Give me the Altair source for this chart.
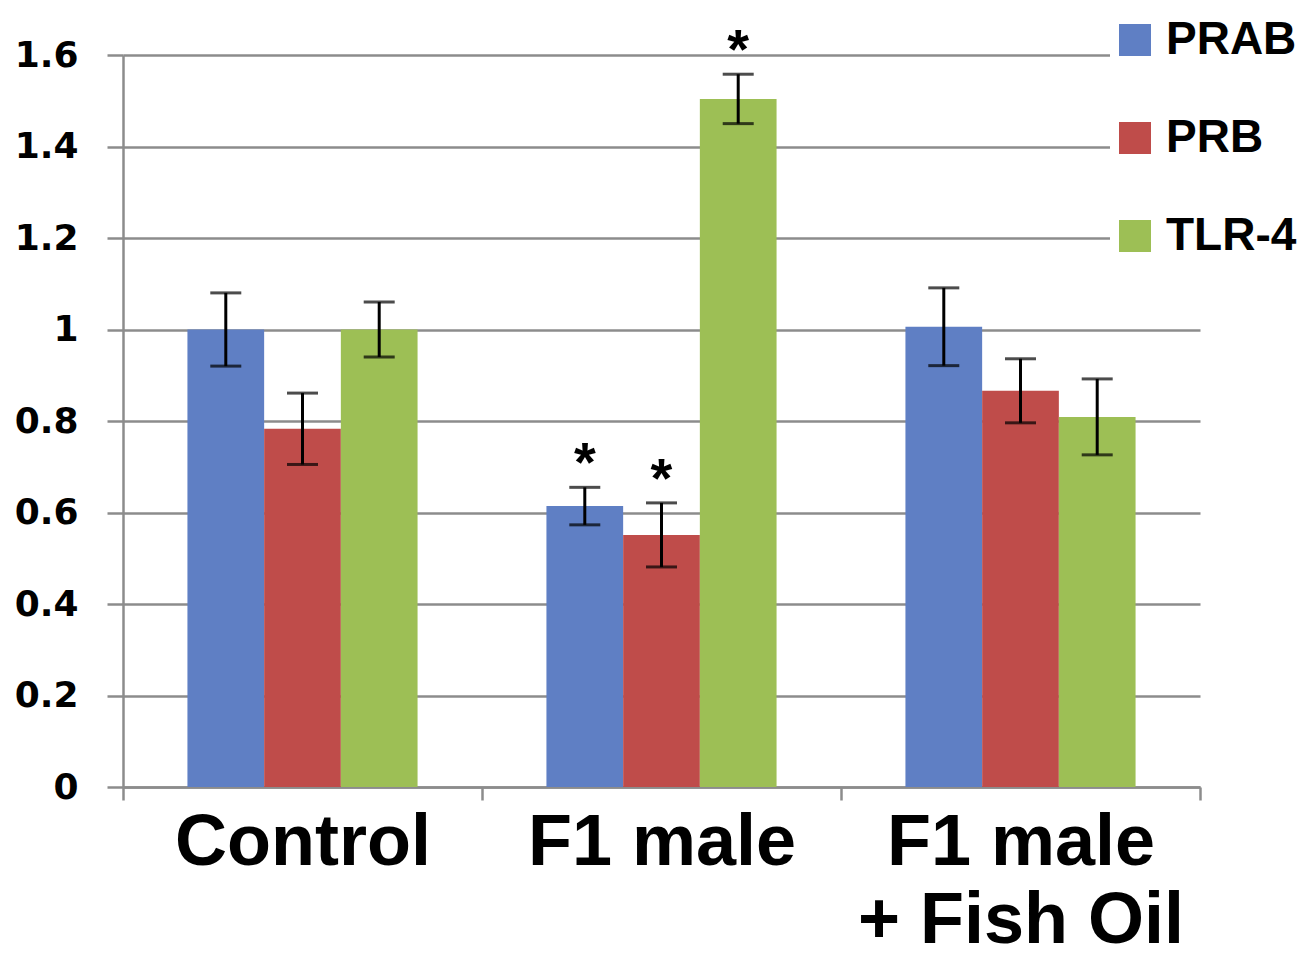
import altair as alt
import pandas as pd

groups = ["Control", "F1 male", "F1 male\n+ Fish Oil"]
series = ["PRAB", "PRB", "TLR-4"]
colors = ["#5F7FC4", "#BF4C4A", "#9DBF55"]

prab = [1.00, 0.614, 1.006]
prb = [0.783, 0.551, 0.866]
tlr4 = [1.00, 1.504, 0.809]

prab_err = [0.080, 0.041, 0.085]
prb_err = [0.078, 0.070, 0.070]
tlr4_err = [0.060, 0.054, 0.083]

prab_sig = [False, True, False]
prb_sig = [False, True, False]
tlr4_sig = [False, True, False]

y_ticks = [0, 0.2, 0.4, 0.6, 0.8, 1.0, 1.2, 1.4, 1.6]

rows = []
for s, vals, errs, sigs in [("PRAB", prab, prab_err, prab_sig),
                            ("PRB", prb, prb_err, prb_sig),
                            ("TLR-4", tlr4, tlr4_err, tlr4_sig)]:
    for g, v, e, sg in zip(groups, vals, errs, sigs):
        rows.append({"group": g, "series": s, "value": v,
                     "lo": v - e, "hi": v + e, "star": "*" if sg else ""})
df = pd.DataFrame(rows)

GRID = "#8C8C8C"

x_enc = alt.X("group:N", sort=groups, title=None,
              scale=alt.Scale(paddingInner=0, paddingOuter=0),
              axis=alt.Axis(labelExpr="split(datum.label, '\\n')", labelAngle=0,
                            labelFont="Liberation Sans", labelFontSize=72,
                            labelFontWeight="bold", labelColor="black",
                            labelLineHeight=78, labelPadding=7, labelLimit=500,
                            tickBand="extent", tickSize=13, tickColor=GRID,
                            tickWidth=2.5, domainColor=GRID, domainWidth=2.5,
                            grid=False))
xoff_enc = alt.XOffset("series:N", sort=series,
                       scale=alt.Scale(paddingInner=0, paddingOuter=0.84))

base = alt.Chart(df).encode(x=x_enc, xOffset=xoff_enc)

y_scale = alt.Scale(domain=[0, 1.6], nice=False, zero=True)
y_axis = alt.Axis(values=y_ticks, format=".1~f",
                  labelFont="DejaVu Sans", labelFontSize=36,
                  labelFontWeight="bold", labelColor="black",
                  labelPadding=29, tickSize=16, tickColor=GRID,
                  tickWidth=2.5, domainColor=GRID, domainWidth=2.5,
                  grid=True, gridColor=GRID, gridWidth=2.5)

bars = base.mark_bar().encode(
    y=alt.Y("value:Q", scale=y_scale, title=None, axis=y_axis),
    color=alt.Color("series:N", sort=series,
                    scale=alt.Scale(domain=series, range=colors),
                    legend=alt.Legend(title=None, orient="none",
                                      legendX=987, legendY=-40,
                                      fillColor="white", padding=2,
                                      symbolType="square", symbolSize=1024,
                                      symbolStrokeWidth=0, symbolOpacity=1,
                                      labelFont="Liberation Sans",
                                      labelFontSize=46, labelFontWeight="bold",
                                      labelColor="black", labelOffset=8,
                                      rowPadding=52, labelLimit=300)),
)

rules = base.mark_rule(color="black", strokeWidth=3).encode(
    y=alt.Y("lo:Q", scale=y_scale, title=None, axis=y_axis), y2="hi:Q")
cap_lo = base.mark_tick(color="black", thickness=3, size=31).encode(
    y=alt.Y("lo:Q", scale=y_scale, title=None, axis=y_axis))
cap_hi = base.mark_tick(color="black", thickness=3, size=31).encode(
    y=alt.Y("hi:Q", scale=y_scale, title=None, axis=y_axis))
stars = base.mark_text(font="Liberation Sans", fontSize=56, fontWeight="bold",
                       color="black", baseline="alphabetic", dy=-6).encode(
    y=alt.Y("hi:Q", scale=y_scale, title=None, axis=y_axis), text="star:N")

chart = alt.layer(bars, rules, cap_lo, cap_hi, stars).properties(
    width=1077, height=732,
    autosize=alt.AutoSizeParams(type="none"),
    padding={"left": 115, "top": 47, "right": 104, "bottom": 163},
    background="white",
).configure_view(stroke=None)

chart.save("out.html", embed_options={"renderer": "svg", "actions": False})
